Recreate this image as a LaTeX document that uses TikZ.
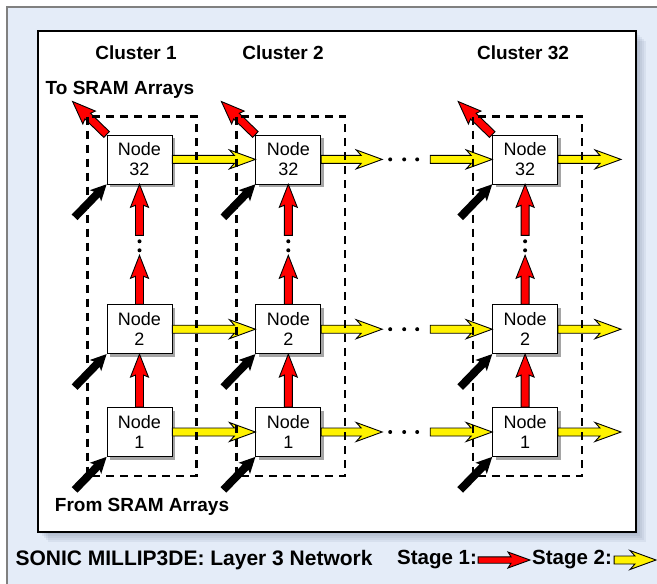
\documentclass[tikz,border=0pt]{standalone}
\usepackage{fontspec}
\setmainfont{Liberation Sans}
\usetikzlibrary{positioning, calc, shadows}

\definecolor{bgblue}{RGB}{228,236,248}
\definecolor{shadeblue}{RGB}{110,125,150}

\tikzset{
  netnode/.style={draw, thick, fill=white, minimum width=65pt, minimum height=49pt,
    align=center, font=\fontsize{18}{20}\selectfont,
    drop shadow={shadow xshift=3pt, shadow yshift=-3pt, fill=black!50, opacity=0.7}},
  cluster/.style={draw, line width=2.3pt, dash pattern=on 8pt off 6pt},
  lbl/.style={font=\fontsize{19}{21}\selectfont\bfseries},
  caption/.style={font=\fontsize{20.5}{22}\selectfont\bfseries},
  along/.style={shift={(\p1)}, rotate=\n1},
  stagetwo/.style={draw=black, line width=0.9pt, fill=yellow,
    /utils/exec={\def\aw{4pt}\def\ah{9.5pt}\def\al{21pt}\def\ab{5pt}}},
  stageone/.style={draw=black, line width=0.9pt, fill=red,
    /utils/exec={\def\aw{4pt}\def\ah{9pt}\def\al{21pt}\def\ab{2pt}}},
  legendone/.style={draw=black, line width=0.9pt, fill=red,
    /utils/exec={\def\aw{3.2pt}\def\ah{8pt}\def\al{19pt}\def\ab{3pt}}},
  feed/.style={fill=black,
    /utils/exec={\def\aw{4pt}\def\ah{8pt}\def\al{14pt}\def\ab{2pt}}},
}

% block arrow from #2 to #3, look given by #1
\newcommand{\blockarrow}[3]{%
  \path[#1] let \p1=(#2), \p2=(#3), \n1={atan2(\y2-\y1,\x2-\x1)},
      \n2={veclen(\x2-\x1,\y2-\y1)} in
    ([along]0pt,\aw) -- ([along]\n2-\al,\aw) -- ([along]\n2-\al-\ab,\ah)
    -- ([along]\n2,0pt) -- ([along]\n2-\al-\ab,-\ah) -- ([along]\n2-\al,-\aw)
    -- ([along]0pt,-\aw) -- cycle;}

\begin{document}
\begin{tikzpicture}[x=1pt, y=-1pt]
\useasboundingbox (0,0) rectangle (657,584);
\clip (0,0) rectangle (657,584);

% background and panel
\draw[gray, line width=1.5pt, fill=bgblue] (7,7) rectangle (690,620);
\foreach \s in {2,4,...,10}
  \fill[shadeblue, opacity=0.1] (38+\s,31+\s) rectangle (636+\s,532+\s);
\draw[line width=1.5pt, fill=white] (38,31) rectangle (636,532);

% nodes
\node[netnode] (c1n1) at (139.5,432) {Node\\1};
\node[netnode, above=53pt of c1n1] (c1n2) {Node\\2};
\node[netnode, above=120pt of c1n2] (c1n32) {Node\\32};
\node[netnode, right=83pt of c1n1] (c2n1) {Node\\1};
\node[netnode, right=83pt of c1n2] (c2n2) {Node\\2};
\node[netnode, right=83pt of c1n32] (c2n32) {Node\\32};
\node[netnode, right=171pt of c2n1] (c32n1) {Node\\1};
\node[netnode, right=171pt of c2n2] (c32n2) {Node\\2};
\node[netnode, right=171pt of c2n32] (c32n32) {Node\\32};

% labels
\node[lbl] (cl1) at (136,53) {Cluster 1};
\node[lbl] (cl2) at (283,53) {Cluster 2};
\node[lbl] (cl32) at (523,53) {Cluster 32};
\node[lbl] (tosram) at (120,90) {To SRAM Arrays};
\node[lbl] (fromsram) at (142,507) {From SRAM Arrays};

% stage 2 links between clusters
\foreach \r in {1,2,32} {
  \coordinate (gap\r a) at ($(c2n\r.east)+(61,0)$);
  \coordinate (gap\r b) at ($(c32n\r.west)+(-62,0)$);
  \coordinate (out\r) at ($(c32n\r.east)+(63,0)$);
  \blockarrow{stagetwo}{c1n\r.east}{c2n\r.west}
  \blockarrow{stagetwo}{c2n\r.east}{gap\r a}
  \blockarrow{stagetwo}{gap\r b}{c32n\r.west}
  \blockarrow{stagetwo}{c32n\r.east}{out\r}
  \foreach \d in {8,22,35}
    \fill ($(gap\r a)+(\d,0)$) circle (2pt);
}

% stage 1 links inside clusters
\foreach \c in {1,2,32} {
  \coordinate (up\c) at ($(c\c n2.north)+(0,-49)$);
  \coordinate (dn\c) at ($(c\c n32.south)+(0,51)$);
  \coordinate (sram\c) at ($(c\c n32.north west)+(-34,-33)$);
  \blockarrow{stageone}{c\c n1.north}{c\c n2.south}
  \blockarrow{stageone}{c\c n2.north}{up\c}
  \blockarrow{stageone}{dn\c}{c\c n32.south}
  \blockarrow{stageone}{c\c n32.north west}{sram\c}
  \fill ($(c\c n32.south)+(0,57)$) circle (2pt);
  \fill ($(c\c n32.south)+(0,66)$) circle (2pt);
  \foreach \r in {1,2,32} {
    \coordinate (in\c n\r) at ($(c\c n\r.south west)+(-32,33)$);
    \blockarrow{feed}{in\c n\r}{c\c n\r.south west}
  }
  \draw[cluster] ($(c\c n32.north west)+(-19,-18)$) rectangle ($(c\c n1.south east)+(24,19)$);
}

% legend
\node[caption, font=\fontsize{21}{22}\selectfont\bfseries, anchor=west] (title) at (12,560) {SONIC MILLIP3DE: Layer 3 Network};
\node[caption, anchor=west, inner xsep=1pt] (stg1) at (396,560) {Stage 1:};
\node[caption, anchor=west, inner xsep=2pt] (stg2) at (530,560) {Stage 2:};
\coordinate (stgend) at (656,560);
\blockarrow{legendone}{stg1.east}{stg2.west}
\blockarrow{stagetwo}{stg2.east}{stgend}
\end{tikzpicture}
\end{document}
